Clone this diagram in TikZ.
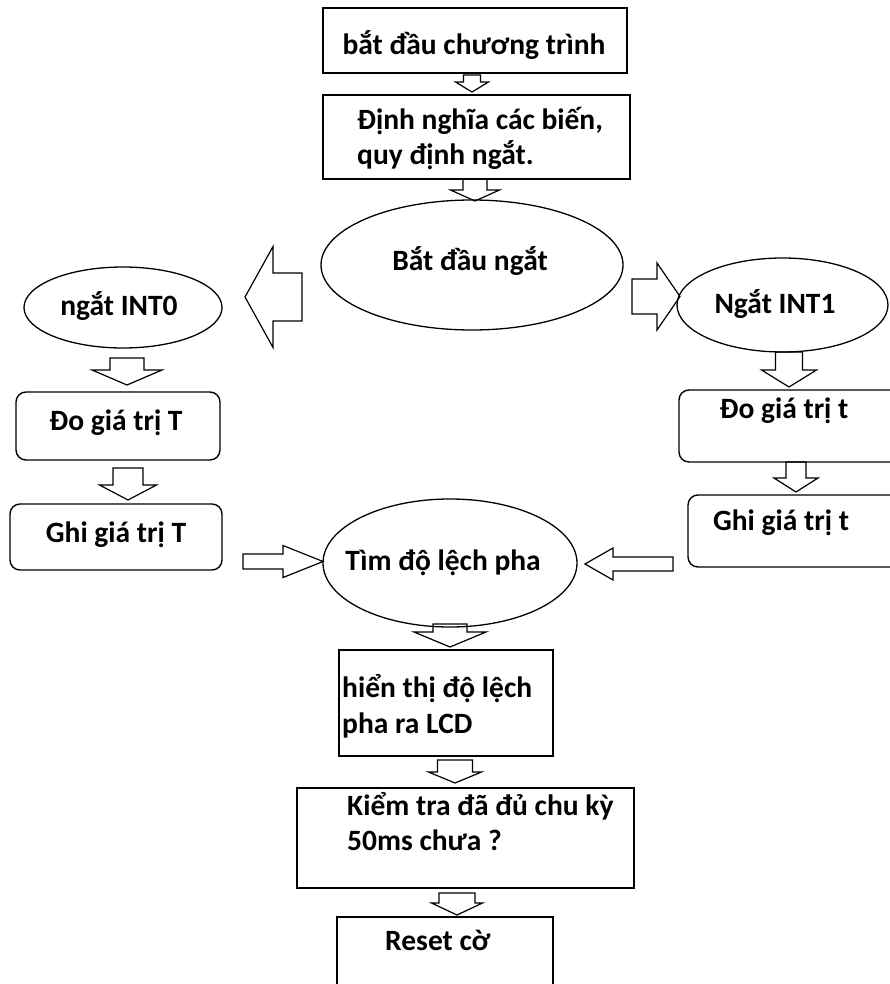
\documentclass[tikz,border=0pt]{standalone}
\usepackage{fontspec}
\setmainfont{Carlito}
\usetikzlibrary{shapes.geometric,calc}

\tikzset{
  box/.style={draw,line width=1.8pt,inner sep=0pt,outer sep=0pt},
  rbox/.style={draw,line width=1.4pt,rounded corners=10pt,inner sep=0pt,outer sep=0pt},
  oval/.style={draw,ellipse,line width=1.3pt,inner sep=0pt,outer sep=0pt},
  txt/.style={font=\bfseries\fontsize{29.5}{35}\selectfont,inner sep=0pt,anchor=base},
  txtl/.style={txt,anchor=base west},
  % hollow block arrow: shaft half width, head half width, head length
  fat/.style n args={3}{line width=1.2pt,to path={
      (\tikztostart) coordinate (s0) (\tikztotarget) coordinate (t0)
      ($(t0)!#3!(s0)$) coordinate (hb)
      ($(s0)!#1!90:(t0)$) -- ($(hb)!#1!-90:(s0)$) -- ($(hb)!#2!-90:(s0)$)
      -- (t0) -- ($(hb)!#2!90:(s0)$) -- ($(hb)!#1!90:(s0)$)
      -- ($(s0)!#1!-90:(t0)$) -- cycle}}
}

\begin{document}
\begin{tikzpicture}[x=1pt,y=-1pt]
  \path[fill=white] (0,0) rectangle (890,984);
  \useasboundingbox (0,0) rectangle (890,984);

  % main column
  \node[box,minimum width=304,minimum height=65] (start) at (475,40.5) {};
  \node[box,minimum width=307,minimum height=84] (defvar) at (476.5,137) {};
  \node[oval,minimum width=302,minimum height=130] (begint) at (472,265) {};

  % INT0 branch
  \node[oval,minimum width=198,minimum height=81] (int0) at (123,307.5) {};
  \node[rbox,minimum width=204,minimum height=68] (measT) at (118,426) {};
  \node[rbox,minimum width=212,minimum height=66] (saveT) at (116,537) {};

  % INT1 branch
  \node[oval,minimum width=211,minimum height=94] (int1) at (782.5,305) {};
  \node[rbox,minimum width=226,minimum height=72] (meast) at (792,426) {};
  \node[rbox,minimum width=217,minimum height=72] (savet) at (796.5,531) {};

  % result
  \node[oval,minimum width=254,minimum height=128] (phase) at (450,563) {};
  \node[box,minimum width=214,minimum height=106] (lcd) at (446,703) {};
  \node[box,minimum width=337,minimum height=100] (check) at (465.5,838) {};
  \node[box,minimum width=216,minimum height=86] (reset) at (445,960) {};

  % texts
  \node[txt] (startT) at (474,55) {bắt đầu chương trình};
  \node[txtl] (defvarA) at (357,130) {Định nghĩa các biến,};
  \node[txtl] (defvarB) at (357,165) {quy định ngắt.};
  \node[txt] (begintT) at (470,270) {Bắt đầu ngắt};
  \node[txt] (int0T) at (119,315) {ngắt INT0};
  \node[txt] (measTT) at (116,430) {Đo giá trị T};
  \node[txt] (saveTT) at (116,542) {Ghi giá trị T};
  \node[txt] (int1T) at (775,313) {Ngắt INT1};
  \node[txt] (meastT) at (784,418) {Đo giá trị t};
  \node[txt] (savetT) at (781,530) {Ghi giá trị t};
  \node[txt] (phaseT) at (443,570) {Tìm độ lệch pha};
  \node[txtl] (lcdA) at (342,697) {hiển thị độ lệch};
  \node[txtl] (lcdB) at (342,733) {pha ra LCD};
  \node[txtl] (checkA) at (347,815) {Kiểm tra đã đủ chu kỳ};
  \node[txtl] (checkB) at (347,850) {50ms chưa ?};
  \node[txtl] (resetT) at (385,950) {Reset cờ};

  % block arrows
  \draw[fat={8.5pt}{16.5pt}{10pt}] ([shift={(-3,2)}]start.south) to ++(0,17);
  \draw[fat={12pt}{24.5pt}{11pt}] ([shift={(-1.5,0)}]defvar.south) to ++(0,22);
  \draw[fat={24pt}{50.5pt}{28pt}] ([shift={(-19,32)}]begint.west) to ++(-57,0);
  \draw[fat={17.5pt}{33.5pt}{23pt}] ([shift={(9,31.5)}]begint.east) to ++(48,0);
  \draw[fat={17pt}{35pt}{15pt}] ([shift={(4,10)}]int0.south) to ++(0,27);
  \draw[fat={15pt}{28.5pt}{15pt}] ([shift={(10,8)}]measT.south) to ++(0,32);
  \draw[fat={13.5pt}{27.5pt}{17pt}] ([shift={(6.5,0)}]int1.south) to ++(0,35);
  \draw[fat={10pt}{22pt}{14pt}] ([shift={(4,0)}]meast.south) to ++(0,30);
  \draw[fat={7.5pt}{16pt}{40pt}] ([shift={(21,24.5)}]saveT.east) to ++(80,0);
  \draw[fat={7pt}{16pt}{28pt}] ([shift={(-15,33)}]savet.west) to ++(-88,0);
  \draw[fat={17pt}{36pt}{15pt}] ([shift={(0,-3)}]phase.south) to ++(0,23);
  \draw[fat={17.5pt}{26.5pt}{11pt}] ([shift={(9,4)}]lcd.south) to ++(0,23);
  \draw[fat={18pt}{25.5pt}{12pt}] ([shift={(-8.5,5)}]check.south) to ++(0,22);
\end{tikzpicture}
\end{document}
